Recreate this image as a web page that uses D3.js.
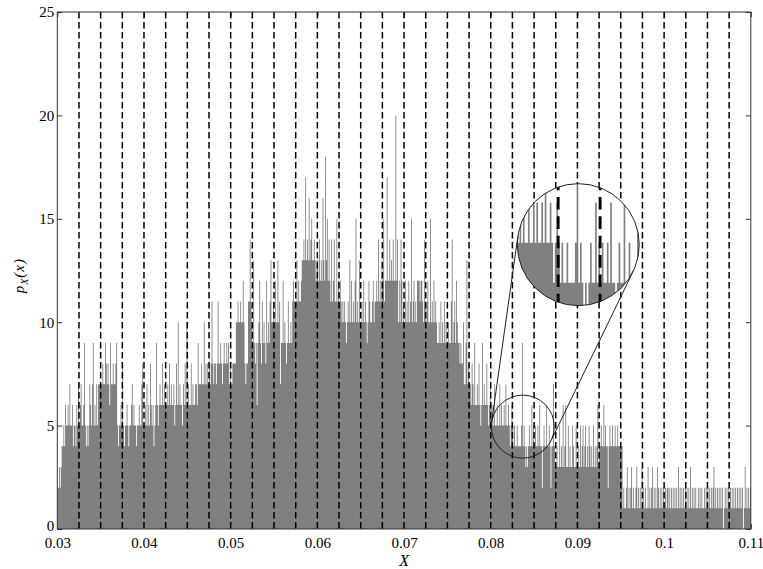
<html>
<head>
<title>Histogram p_X(x)</title>
<script src="https://d3js.org/d3.v7.min.js"></script>
</head>
<style>
body { margin: 0; background: #fff; }
svg { display: block; background: #fff; }
text { font-family: 'Liberation Serif', 'Times New Roman', Times, serif; fill: #000; }
.axis text { font-size: 15px; }
.axis-title { font-size: 16px; font-style: italic; }
.bars { fill: #808080; }
.quant { stroke: #000; stroke-width: 1.5; stroke-dasharray: 6.5 3.5; fill: none; }
.frame { fill: none; stroke: #333; stroke-width: 1; }
.ring { fill: none; stroke: #222; stroke-width: 1; }
.tangent { stroke: #222; stroke-width: 1; }
</style>
<body>
<svg width="763" height="569"></svg>
<script>
// histogram counts, bins of 0.0001 starting at 0.03 (one row = 0.0025)
const binStart = 0.03;
const binWidth = 0.0001;

const counts030 = [
  2,2,3,2,3,4,4,5,4,6,5,5,6,5,7,5,5,6,4,5,5,4,6,5,7,
  5,6,7,5,5,6,9,5,4,5,4,5,7,6,5,7,9,5,6,5,7,5,7,7,7,
  7,7,8,7,7,9,8,7,8,7,6,9,7,7,8,7,7,8,9,5,4,5,5,6,5,
  8,5,4,5,5,6,5,4,5,5,6,7,5,6,5,5,4,5,5,6,5,5,7,8,5
];
const counts040 = [
  5,6,5,7,5,6,5,8,6,5,6,4,5,6,9,6,5,6,7,6,6,8,6,7,6,
  6,6,7,6,8,6,7,6,6,7,5,6,8,6,10,6,7,6,6,5,7,6,8,6,10,
  6,7,6,6,8,6,7,6,6,7,7,6,9,7,7,7,8,7,7,10,7,8,7,8,7,
  8,7,8,11,8,7,8,8,7,8,11,8,8,9,8,7,8,9,8,8,9,8,9,7,8
];
const counts050 = [
  7,7,8,8,8,8,10,10,11,10,10,11,10,10,12,10,8,7,8,8,11,11,14,11,10,
  9,13,9,8,9,6,9,10,12,9,8,11,9,10,9,8,12,9,10,9,11,13,10,10,11,
  10,12,10,10,13,10,11,7,9,9,12,9,10,9,8,9,11,9,9,10,9,11,12,11,11,
  11,13,11,12,11,11,12,13,13,14,13,17,13,14,13,16,13,14,15,13,13,14,13,12,13
];
const counts060 = [
  13,12,14,12,13,12,16,13,12,18,13,15,12,14,12,11,14,11,12,14,11,11,15,11,12,
  11,12,11,10,11,10,11,10,9,10,11,10,13,10,12,10,11,10,12,15,10,11,10,13,10,
  10,11,10,12,10,11,10,9,10,12,11,10,10,11,12,10,11,11,12,11,14,11,12,11,13,
  12,15,11,12,12,17,12,12,14,12,13,12,14,12,12,20,12,14,10,12,10,14,12,10,11
];
const counts070 = [
  10,12,10,11,10,12,10,11,15,10,11,12,10,11,10,12,12,12,11,12,12,11,10,14,11,
  10,11,12,10,10,15,10,11,10,12,10,11,10,9,9,10,9,11,9,10,9,11,9,10,9,
  9,10,9,9,11,14,9,10,11,9,12,10,9,9,8,9,8,8,10,7,7,9,13,7,8,
  7,7,6,8,7,6,9,6,6,7,6,8,6,5,6,9,6,7,6,6,8,6,5,6,7
];
const counts080 = [
  6,5,6,5,7,5,5,6,5,5,7,5,6,5,5,6,5,7,5,5,6,5,4,5,6,
  5,4,5,4,4,5,4,4,4,4,5,9,4,5,4,3,4,3,4,5,4,4,6,4,5,
  4,5,4,4,5,4,6,4,4,2,4,5,4,4,6,4,4,5,4,2,4,4,7,4,3,
  3,4,3,3,5,3,4,3,6,3,4,6,3,3,5,3,4,3,3,5,4,3,3,5,3
];
const counts090 = [
  3,4,3,5,3,4,5,3,4,5,3,4,3,5,4,3,4,3,5,3,4,3,4,6,3,
  4,4,5,4,4,6,4,5,4,4,2,4,5,4,4,5,4,4,5,4,4,5,4,4,4,
  4,4,1,2,1,1,2,3,1,2,1,2,3,1,2,1,1,2,3,1,2,1,2,1,3,
  1,2,1,2,1,1,3,1,2,1,2,3,1,2,1,2,1,3,2,1,2,1,2,1,2
];
const counts100 = [
  1,2,1,2,2,1,2,1,2,1,2,1,2,1,2,1,3,1,2,1,2,1,2,1,2,
  1,2,1,2,1,3,1,2,1,2,1,2,1,1,2,1,2,1,2,1,1,2,1,2,1,
  2,1,2,1,2,1,2,3,1,2,1,2,1,2,1,2,1,2,0,1,2,1,2,1,2,
  1,2,1,2,1,2,1,2,1,2,1,2,1,2,1,2,0,1,3,1,2,1,2,1,2
];

// dashed lines
const quantLevels = [0.0325, 0.035, 0.0375, 0.04, 0.0425, 0.045, 0.0475, 0.05,
  0.0525, 0.055, 0.0575, 0.06, 0.0625, 0.065, 0.0675, 0.07, 0.0725, 0.075,
  0.0775, 0.08, 0.0825, 0.085, 0.0875, 0.09, 0.0925, 0.095, 0.0975, 0.1,
  0.1025, 0.105, 0.1075];

const xTicks = [0.03, 0.04, 0.05, 0.06, 0.07, 0.08, 0.09, 0.1, 0.11];
const xTickLabels = ['0.03', '0.04', '0.05', '0.06', '0.07', '0.08', '0.09', '0.1', '0.11'];
const yTicks = [0, 5, 10, 15, 20, 25];

// magnifier: zoomed spot and where the lens sits (data coords)
const zoomSpot = { x: 0.0837, y: 4.95 };
const lensSpot = { x: 0.0901, y: 13.75 };

const counts = [].concat(counts030, counts040, counts050, counts060,
  counts070, counts080, counts090, counts100);
const bins = counts.map((c, i) => ({ x0: binStart + i * binWidth, count: c }));
bins.push({ x0: binStart + counts.length * binWidth, count: counts[counts.length - 1] });

const svg = d3.select('svg');
const margin = { top: 12, right: 12.2, bottom: 40, left: 57.3 };
const width = 763 - margin.left - margin.right;
const height = 569 - margin.top - margin.bottom;

const chart = svg.append('g')
  .attr('transform', `translate(${margin.left}, ${margin.top})`);

const x = d3.scaleLinear().domain([0.03, 0.11]).range([0, width]);
const y = d3.scaleLinear().domain([0, 25]).range([height, 0]);

const serif = "'Liberation Serif', 'Times New Roman', Times, serif";

// axes (ticks inward, drawn under the bars)
chart.append('g')
  .attr('class', 'axis')
  .attr('transform', `translate(0, ${height})`)
  .attr('color', '#333')
  .call(d3.axisBottom(x).tickValues(xTicks).tickFormat((d, i) => xTickLabels[i])
    .tickSizeInner(-5).tickSizeOuter(0).tickPadding(8))
  .attr('font-family', serif)
  .attr('font-size', 15)
  .call(g => g.select('.domain').remove());

chart.append('g')
  .attr('class', 'axis')
  .attr('color', '#333')
  .call(d3.axisLeft(y).tickValues(yTicks).tickSizeInner(-5).tickSizeOuter(0).tickPadding(3))
  .attr('font-family', serif)
  .attr('font-size', 15)
  .call(g => g.select('.domain').remove())
  .call(g => g.selectAll('text').filter(d => d === 0).attr('dy', '0.1em'));

chart.append('g')
  .attr('color', '#333')
  .call(d3.axisTop(x).tickValues(xTicks).tickFormat('').tickSizeInner(-5).tickSizeOuter(0))
  .call(g => g.select('.domain').remove());

chart.append('g')
  .attr('transform', `translate(${width}, 0)`)
  .attr('color', '#333')
  .call(d3.axisRight(y).tickValues(yTicks).tickFormat('').tickSizeInner(-5).tickSizeOuter(0))
  .call(g => g.select('.domain').remove());

const area = d3.area()
  .x(d => x(d.x0))
  .y0(height)
  .y1(d => y(d.count))
  .curve(d3.curveStepAfter);

function drawPlot(g) {
  g.append('path')
    .attr('class', 'bars')
    .attr('d', area(bins));

  g.selectAll('.quant')
    .data(quantLevels)
    .enter()
    .append('line')
    .attr('class', 'quant')
    .attr('x1', d => x(d))
    .attr('x2', d => x(d))
    .attr('y1', 0)
    .attr('y2', height);
}

drawPlot(chart.append('g'));

chart.append('rect')
  .attr('class', 'frame')
  .attr('width', width)
  .attr('height', height);

// magnifier
const zx = x(zoomSpot.x), zy = y(zoomSpot.y);
const lx = x(lensSpot.x), ly = y(lensSpot.y);
const zoomR = 31.5, lensR = 61;
const k = lensR / zoomR;

// outer tangent lines between the two circles
const dx = lx - zx, dy = ly - zy;
const dist = Math.hypot(dx, dy);
const base = Math.atan2(dy, dx);
const beta = Math.acos((lensR - zoomR) / dist);
[base + beta, base - beta].forEach(a => {
  const nx = Math.cos(a), ny = Math.sin(a);
  chart.append('line')
    .attr('class', 'tangent')
    .attr('x1', zx - zoomR * nx)
    .attr('y1', zy - zoomR * ny)
    .attr('x2', lx - lensR * nx)
    .attr('y2', ly - lensR * ny);
});

chart.append('circle')
  .attr('class', 'ring')
  .attr('cx', zx).attr('cy', zy).attr('r', zoomR);

svg.append('defs').append('clipPath')
  .attr('id', 'lens')
  .append('circle')
  .attr('cx', lx).attr('cy', ly).attr('r', lensR);

const lens = chart.append('g').attr('clip-path', 'url(#lens)');
lens.append('circle')
  .attr('cx', lx).attr('cy', ly).attr('r', lensR)
  .attr('fill', '#fff');
drawPlot(lens.append('g')
  .attr('transform', `translate(${lx}, ${ly}) scale(${k}) translate(${-zx}, ${-zy})`));

chart.append('circle')
  .attr('class', 'ring')
  .attr('cx', lx).attr('cy', ly).attr('r', lensR);

// axis titles
svg.append('text')
  .attr('class', 'axis-title')
  .attr('x', margin.left + width / 2)
  .attr('y', 566)
  .attr('text-anchor', 'middle')
  .text('X');

const ylab = svg.append('text')
  .attr('class', 'axis-title')
  .attr('transform', `translate(24, ${margin.top + height * 0.51}) rotate(-90)`)
  .attr('text-anchor', 'middle')
  .style('font-size', '15px')
  .style('letter-spacing', '1px');
ylab.append('tspan').text('p');
ylab.append('tspan').attr('dy', 4).style('font-size', '10px').text('X');
ylab.append('tspan').attr('dy', -4).text('(x)');
</script>
</body>
</html>
